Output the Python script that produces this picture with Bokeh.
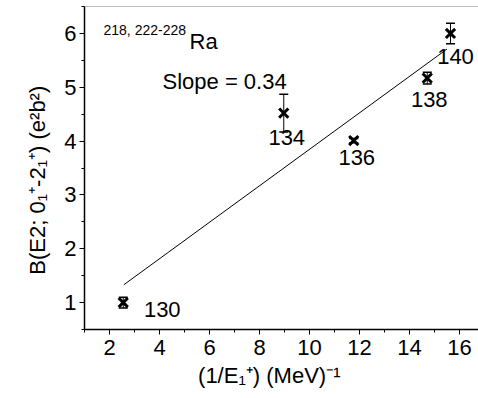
import numpy as np
from bokeh.plotting import figure
from bokeh.models import ColumnDataSource, Range1d, FixedTicker, Whisker, TeeHead, Label, Span
from bokeh.embed import file_html
from bokeh.resources import INLINE
from bokeh.core.properties import value

# ---------------- data ----------------
isotopes = ["130", "134", "136", "138", "140"]
inv_e21 = [2.55, 8.97, 11.77, 14.71, 15.64]       # (1/E(2+1)) in MeV^-1
be2 = [1.0, 4.52, 4.01, 5.17, 6.0]                 # B(E2) in e^2 b^2
be2_err = [0.1, 0.35, 0.04, 0.11, 0.19]
fit_x = [2.57, 15.5]
fit_y = [1.33, 5.71]
x_ticks = [2, 4, 6, 8, 10, 12, 14, 16]
x_minor = [1, 3, 5, 7, 9, 11, 13, 15, 17]
y_ticks = [1, 2, 3, 4, 5, 6]
y_minor = [0.5, 1.5, 2.5, 3.5, 4.5, 5.5, 6.5]
x_title = "(1/E\u2081\u207a) (MeV)\u207b\u00b9"
y_title = "B(E2; 0\u2081\u207a-2\u2081\u207a) (e\u00b2b\u00b2)"

# ---------------- layout ----------------
FONT = "Liberation Sans"
W, H = 478, 398
L, R, T, B = 84, 0, 6, 69
FW, FH = W - L - R, H - T - B
X0, X1 = 1.0, 1.0 + FW / 25.0
Y0, Y1 = 0.5, 6.5
NB = "\u00a0"

p = figure(width=W, height=H, x_range=Range1d(X0, X1), y_range=Range1d(Y0, Y1),
           output_backend="svg", toolbar_location=None,
           min_border_left=L, min_border_right=R, min_border_top=T, min_border_bottom=B)
p.outline_line_color = None
p.xgrid.visible = False
p.ygrid.visible = False
p.background_fill_color = "white"
p.border_fill_color = "white"

p.xaxis.ticker = FixedTicker(ticks=x_ticks, minor_ticks=x_minor)
p.yaxis.ticker = FixedTicker(ticks=y_ticks, minor_ticks=y_minor)
for ax in (p.xaxis[0], p.yaxis[0]):
    ax.axis_line_width = 1.5
    ax.axis_line_color = "black"
    ax.major_tick_line_color = "black"
    ax.minor_tick_line_color = "black"
    ax.major_tick_out = 5
    ax.major_tick_in = 0
    ax.minor_tick_out = 3
    ax.minor_tick_in = 0
    ax.major_label_text_font = FONT
    ax.major_label_text_font_size = "22px"
    ax.major_label_text_color = "black"
    ax.axis_label_text_font = FONT
    ax.axis_label_text_font_size = "22px"
    ax.axis_label_text_font_style = "normal"
    ax.axis_label_text_color = "black"
p.xaxis.major_label_standoff = 5
p.yaxis.major_label_standoff = 3
p.xaxis.axis_label = x_title + NB * 4
p.yaxis.axis_label = y_title + NB * 4
p.xaxis.axis_label_standoff = 5
p.yaxis.axis_label_standoff = 11

p.add_layout(Span(location=Y1, dimension="width", line_color="#808080", line_width=1))

# fit line
p.line(fit_x, fit_y, line_color="black", line_width=1)

# error bars
src = ColumnDataSource(dict(
    x=inv_e21, y=be2,
    upper=[v + e for v, e in zip(be2, be2_err)],
    lower=[v - e for v, e in zip(be2, be2_err)],
    lab=isotopes,
    xo=[39, 3, 3, 2, 5], yo=[7, 24, 17, 21, 23],
))
p.add_layout(Whisker(source=src, base="x", upper="upper", lower="lower", dimension="height",
                     line_color="black", line_width=1,
                     upper_head=TeeHead(size=9, line_color="black", line_width=1.5),
                     lower_head=TeeHead(size=9, line_color="black", line_width=1.5)))
p.scatter("x", "y", source=src, marker="x", size=13, line_width=3, line_color="black")

p.text("x", "y", text="lab", source=src, x_offset="xo", y_offset="yo",
       text_align="center", text_baseline="alphabetic",
       text_font=value(FONT), text_font_size="22px", text_color="black")


def scr_label(text, px, py, size, angle=0.0):
    # position given in canvas pixels (from top-left); converted to frame-relative screen units
    p.add_layout(Label(x=px - L, y=(T + FH) - py, x_units="screen", y_units="screen",
                       text=text, angle=angle, text_font=FONT, text_font_size=f"{size}px",
                       text_baseline="alphabetic", text_align="left", text_color="black"))

# annotations inside the plot
scr_label("218, 222-228", 103, 29, 14)
scr_label("Ra", 189, 40.5, 22)
scr_label("Slope = 0.34", 162, 81, 22)

open("out.html", "w").write(file_html(p, INLINE))
